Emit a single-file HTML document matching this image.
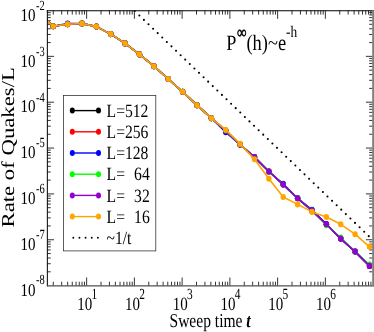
<!DOCTYPE html>
<html><head><meta charset="utf-8"><style>
html,body{margin:0;padding:0;background:#fff;}
svg{display:block;will-change:transform;font-family:"Liberation Serif",serif;text-rendering:geometricPrecision;}
</style></head><body>
<svg width="374" height="332" viewBox="0 0 374 332">
<rect width="374" height="332" fill="#fff"/>
<defs><clipPath id="c"><rect x="47.35" y="10.5" width="325.25" height="275.3"/></clipPath></defs>
<path d="M53.27 10.5v4.1M53.27 285.8v-4.1M61.68 10.5v4.1M61.68 285.8v-4.1M67.65 10.5v4.1M67.65 285.8v-4.1M72.27 10.5v4.1M72.27 285.8v-4.1M76.05 10.5v4.1M76.05 285.8v-4.1M79.25 10.5v4.1M79.25 285.8v-4.1M82.02 10.5v4.1M82.02 285.8v-4.1M84.46 10.5v4.1M84.46 285.8v-4.1M86.64 10.5v8.3M86.64 285.8v-8.3M101.02 10.5v4.1M101.02 285.8v-4.1M109.43 10.5v4.1M109.43 285.8v-4.1M115.39 10.5v4.1M115.39 285.8v-4.1M120.02 10.5v4.1M120.02 285.8v-4.1M123.80 10.5v4.1M123.80 285.8v-4.1M126.99 10.5v4.1M126.99 285.8v-4.1M129.76 10.5v4.1M129.76 285.8v-4.1M132.21 10.5v4.1M132.21 285.8v-4.1M134.39 10.5v8.3M134.39 285.8v-8.3M148.76 10.5v4.1M148.76 285.8v-4.1M157.17 10.5v4.1M157.17 285.8v-4.1M163.14 10.5v4.1M163.14 285.8v-4.1M167.76 10.5v4.1M167.76 285.8v-4.1M171.54 10.5v4.1M171.54 285.8v-4.1M174.74 10.5v4.1M174.74 285.8v-4.1M177.51 10.5v4.1M177.51 285.8v-4.1M179.95 10.5v4.1M179.95 285.8v-4.1M182.13 10.5v8.3M182.13 285.8v-8.3M196.51 10.5v4.1M196.51 285.8v-4.1M204.92 10.5v4.1M204.92 285.8v-4.1M210.88 10.5v4.1M210.88 285.8v-4.1M215.51 10.5v4.1M215.51 285.8v-4.1M219.29 10.5v4.1M219.29 285.8v-4.1M222.48 10.5v4.1M222.48 285.8v-4.1M225.25 10.5v4.1M225.25 285.8v-4.1M227.70 10.5v4.1M227.70 285.8v-4.1M229.88 10.5v8.3M229.88 285.8v-8.3M244.25 10.5v4.1M244.25 285.8v-4.1M252.66 10.5v4.1M252.66 285.8v-4.1M258.63 10.5v4.1M258.63 285.8v-4.1M263.25 10.5v4.1M263.25 285.8v-4.1M267.03 10.5v4.1M267.03 285.8v-4.1M270.23 10.5v4.1M270.23 285.8v-4.1M273.00 10.5v4.1M273.00 285.8v-4.1M275.44 10.5v4.1M275.44 285.8v-4.1M277.62 10.5v8.3M277.62 285.8v-8.3M292.00 10.5v4.1M292.00 285.8v-4.1M300.41 10.5v4.1M300.41 285.8v-4.1M306.37 10.5v4.1M306.37 285.8v-4.1M311.00 10.5v4.1M311.00 285.8v-4.1M314.78 10.5v4.1M314.78 285.8v-4.1M317.97 10.5v4.1M317.97 285.8v-4.1M320.74 10.5v4.1M320.74 285.8v-4.1M323.19 10.5v4.1M323.19 285.8v-4.1M325.37 10.5v8.3M325.37 285.8v-8.3M339.74 10.5v4.1M339.74 285.8v-4.1M348.15 10.5v4.1M348.15 285.8v-4.1M354.12 10.5v4.1M354.12 285.8v-4.1M358.74 10.5v4.1M358.74 285.8v-4.1M362.52 10.5v4.1M362.52 285.8v-4.1M365.72 10.5v4.1M365.72 285.8v-4.1M368.49 10.5v4.1M368.49 285.8v-4.1M370.93 10.5v4.1M370.93 285.8v-4.1M47.35 271.80h3.4M372.6 271.80h-3.4M47.35 263.72h3.4M372.6 263.72h-3.4M47.35 258.00h3.4M372.6 258.00h-3.4M47.35 253.55h3.4M372.6 253.55h-3.4M47.35 249.92h3.4M372.6 249.92h-3.4M47.35 246.85h3.4M372.6 246.85h-3.4M47.35 244.19h3.4M372.6 244.19h-3.4M47.35 241.85h3.4M372.6 241.85h-3.4M47.35 239.75h6.7M372.6 239.75h-6.7M47.35 225.95h3.4M372.6 225.95h-3.4M47.35 217.87h3.4M372.6 217.87h-3.4M47.35 212.15h3.4M372.6 212.15h-3.4M47.35 207.70h3.4M372.6 207.70h-3.4M47.35 204.07h3.4M372.6 204.07h-3.4M47.35 201.00h3.4M372.6 201.00h-3.4M47.35 198.34h3.4M372.6 198.34h-3.4M47.35 196.00h3.4M372.6 196.00h-3.4M47.35 193.90h6.7M372.6 193.90h-6.7M47.35 180.10h3.4M372.6 180.10h-3.4M47.35 172.02h3.4M372.6 172.02h-3.4M47.35 166.30h3.4M372.6 166.30h-3.4M47.35 161.85h3.4M372.6 161.85h-3.4M47.35 158.22h3.4M372.6 158.22h-3.4M47.35 155.15h3.4M372.6 155.15h-3.4M47.35 152.49h3.4M372.6 152.49h-3.4M47.35 150.15h3.4M372.6 150.15h-3.4M47.35 148.05h6.7M372.6 148.05h-6.7M47.35 134.25h3.4M372.6 134.25h-3.4M47.35 126.17h3.4M372.6 126.17h-3.4M47.35 120.45h3.4M372.6 120.45h-3.4M47.35 116.00h3.4M372.6 116.00h-3.4M47.35 112.37h3.4M372.6 112.37h-3.4M47.35 109.30h3.4M372.6 109.30h-3.4M47.35 106.64h3.4M372.6 106.64h-3.4M47.35 104.30h3.4M372.6 104.30h-3.4M47.35 102.20h6.7M372.6 102.20h-6.7M47.35 88.40h3.4M372.6 88.40h-3.4M47.35 80.32h3.4M372.6 80.32h-3.4M47.35 74.60h3.4M372.6 74.60h-3.4M47.35 70.15h3.4M372.6 70.15h-3.4M47.35 66.52h3.4M372.6 66.52h-3.4M47.35 63.45h3.4M372.6 63.45h-3.4M47.35 60.79h3.4M372.6 60.79h-3.4M47.35 58.45h3.4M372.6 58.45h-3.4M47.35 56.35h6.7M372.6 56.35h-6.7M47.35 42.55h3.4M372.6 42.55h-3.4M47.35 34.47h3.4M372.6 34.47h-3.4M47.35 28.75h3.4M372.6 28.75h-3.4M47.35 24.30h3.4M372.6 24.30h-3.4M47.35 20.67h3.4M372.6 20.67h-3.4M47.35 17.60h3.4M372.6 17.60h-3.4M47.35 14.94h3.4M372.6 14.94h-3.4M47.35 12.60h3.4M372.6 12.60h-3.4" stroke="#000" stroke-width="0.8" fill="none"/>
<g clip-path="url(#c)"><line x1="134.74" y1="11.05" x2="372.82" y2="240.04" stroke="#000" stroke-width="2.1" stroke-linecap="round" stroke-dasharray="0 6.367"/>
<polyline points="38.9,12.6 53.3,26.3 67.6,24.3 82.0,23.5 96.4,26.6 110.8,34.1 125.1,43.4 139.5,54.4 153.9,66.2 168.3,79.0 182.6,91.8 197.0,105.2 211.4,118.2 225.7,130.6 240.1,144.6 254.5,157.1 268.9,171.5 283.2,184.6 297.6,198.3 312.0,210.6 326.4,224.3 340.7,238.6 355.1,251.6 369.5,265.9" fill="none" stroke="#000" stroke-width="1.6" stroke-linejoin="round"/>
<ellipse cx="38.9" cy="12.6" rx="2.7" ry="3.05" fill="#000"/>
<ellipse cx="53.3" cy="26.3" rx="2.7" ry="3.05" fill="#000"/>
<ellipse cx="67.6" cy="24.3" rx="2.7" ry="3.05" fill="#000"/>
<ellipse cx="82.0" cy="23.5" rx="2.7" ry="3.05" fill="#000"/>
<ellipse cx="96.4" cy="26.6" rx="2.7" ry="3.05" fill="#000"/>
<ellipse cx="110.8" cy="34.1" rx="2.7" ry="3.05" fill="#000"/>
<ellipse cx="125.1" cy="43.4" rx="2.7" ry="3.05" fill="#000"/>
<ellipse cx="139.5" cy="54.4" rx="2.7" ry="3.05" fill="#000"/>
<ellipse cx="153.9" cy="66.2" rx="2.7" ry="3.05" fill="#000"/>
<ellipse cx="168.3" cy="79.0" rx="2.7" ry="3.05" fill="#000"/>
<ellipse cx="182.6" cy="91.8" rx="2.7" ry="3.05" fill="#000"/>
<ellipse cx="197.0" cy="105.2" rx="2.7" ry="3.05" fill="#000"/>
<ellipse cx="211.4" cy="118.2" rx="2.7" ry="3.05" fill="#000"/>
<ellipse cx="225.7" cy="130.6" rx="2.7" ry="3.05" fill="#000"/>
<ellipse cx="240.1" cy="144.6" rx="2.7" ry="3.05" fill="#000"/>
<ellipse cx="254.5" cy="157.1" rx="2.7" ry="3.05" fill="#000"/>
<ellipse cx="268.9" cy="171.5" rx="2.7" ry="3.05" fill="#000"/>
<ellipse cx="283.2" cy="184.6" rx="2.7" ry="3.05" fill="#000"/>
<ellipse cx="297.6" cy="198.3" rx="2.7" ry="3.05" fill="#000"/>
<ellipse cx="312.0" cy="210.6" rx="2.7" ry="3.05" fill="#000"/>
<ellipse cx="326.4" cy="224.3" rx="2.7" ry="3.05" fill="#000"/>
<ellipse cx="340.7" cy="238.6" rx="2.7" ry="3.05" fill="#000"/>
<ellipse cx="355.1" cy="251.6" rx="2.7" ry="3.05" fill="#000"/>
<ellipse cx="369.5" cy="265.9" rx="2.7" ry="3.05" fill="#000"/>
<polyline points="38.9,12.6 53.3,26.3 67.6,24.3 82.0,23.5 96.4,26.6 110.8,34.1 125.1,43.4 139.5,54.4 153.9,66.2 168.3,79.0 182.6,91.8 197.0,105.2 211.4,118.2 225.7,130.6 240.1,144.6 254.5,157.1 268.9,171.5 283.2,184.6 297.6,198.3 312.0,210.6 326.4,224.3 340.7,238.6 355.1,251.6 369.5,265.9" fill="none" stroke="#f00" stroke-width="1.6" stroke-linejoin="round"/>
<ellipse cx="38.9" cy="12.6" rx="2.7" ry="3.05" fill="#f00"/>
<ellipse cx="53.3" cy="26.3" rx="2.7" ry="3.05" fill="#f00"/>
<ellipse cx="67.6" cy="24.3" rx="2.7" ry="3.05" fill="#f00"/>
<ellipse cx="82.0" cy="23.5" rx="2.7" ry="3.05" fill="#f00"/>
<ellipse cx="96.4" cy="26.6" rx="2.7" ry="3.05" fill="#f00"/>
<ellipse cx="110.8" cy="34.1" rx="2.7" ry="3.05" fill="#f00"/>
<ellipse cx="125.1" cy="43.4" rx="2.7" ry="3.05" fill="#f00"/>
<ellipse cx="139.5" cy="54.4" rx="2.7" ry="3.05" fill="#f00"/>
<ellipse cx="153.9" cy="66.2" rx="2.7" ry="3.05" fill="#f00"/>
<ellipse cx="168.3" cy="79.0" rx="2.7" ry="3.05" fill="#f00"/>
<ellipse cx="182.6" cy="91.8" rx="2.7" ry="3.05" fill="#f00"/>
<ellipse cx="197.0" cy="105.2" rx="2.7" ry="3.05" fill="#f00"/>
<ellipse cx="211.4" cy="118.2" rx="2.7" ry="3.05" fill="#f00"/>
<ellipse cx="225.7" cy="130.6" rx="2.7" ry="3.05" fill="#f00"/>
<ellipse cx="240.1" cy="144.6" rx="2.7" ry="3.05" fill="#f00"/>
<ellipse cx="254.5" cy="157.1" rx="2.7" ry="3.05" fill="#f00"/>
<ellipse cx="268.9" cy="171.5" rx="2.7" ry="3.05" fill="#f00"/>
<ellipse cx="283.2" cy="184.6" rx="2.7" ry="3.05" fill="#f00"/>
<ellipse cx="297.6" cy="198.3" rx="2.7" ry="3.05" fill="#f00"/>
<ellipse cx="312.0" cy="210.6" rx="2.7" ry="3.05" fill="#f00"/>
<ellipse cx="326.4" cy="224.3" rx="2.7" ry="3.05" fill="#f00"/>
<ellipse cx="340.7" cy="238.6" rx="2.7" ry="3.05" fill="#f00"/>
<ellipse cx="355.1" cy="251.6" rx="2.7" ry="3.05" fill="#f00"/>
<ellipse cx="369.5" cy="265.9" rx="2.7" ry="3.05" fill="#f00"/>
<polyline points="38.9,12.6 53.3,26.3 67.6,23.6 82.0,23.5 96.4,26.6 110.8,34.1 125.1,43.4 139.5,54.4 153.9,66.2 168.3,79.0 182.6,91.8 197.0,105.2 211.4,118.2 225.7,132.2 240.1,144.6 254.5,157.1 268.9,171.5 283.2,183.8 297.6,198.3 312.0,209.8 326.4,224.3 340.7,238.6 355.1,251.6 369.5,265.9" fill="none" stroke="#00f" stroke-width="1.6" stroke-linejoin="round"/>
<ellipse cx="38.9" cy="12.6" rx="2.7" ry="3.05" fill="#00f"/>
<ellipse cx="53.3" cy="26.3" rx="2.7" ry="3.05" fill="#00f"/>
<ellipse cx="67.6" cy="23.6" rx="2.7" ry="3.05" fill="#00f"/>
<ellipse cx="82.0" cy="23.5" rx="2.7" ry="3.05" fill="#00f"/>
<ellipse cx="96.4" cy="26.6" rx="2.7" ry="3.05" fill="#00f"/>
<ellipse cx="110.8" cy="34.1" rx="2.7" ry="3.05" fill="#00f"/>
<ellipse cx="125.1" cy="43.4" rx="2.7" ry="3.05" fill="#00f"/>
<ellipse cx="139.5" cy="54.4" rx="2.7" ry="3.05" fill="#00f"/>
<ellipse cx="153.9" cy="66.2" rx="2.7" ry="3.05" fill="#00f"/>
<ellipse cx="168.3" cy="79.0" rx="2.7" ry="3.05" fill="#00f"/>
<ellipse cx="182.6" cy="91.8" rx="2.7" ry="3.05" fill="#00f"/>
<ellipse cx="197.0" cy="105.2" rx="2.7" ry="3.05" fill="#00f"/>
<ellipse cx="211.4" cy="118.2" rx="2.7" ry="3.05" fill="#00f"/>
<ellipse cx="225.7" cy="132.2" rx="2.7" ry="3.05" fill="#00f"/>
<ellipse cx="240.1" cy="144.6" rx="2.7" ry="3.05" fill="#00f"/>
<ellipse cx="254.5" cy="157.1" rx="2.7" ry="3.05" fill="#00f"/>
<ellipse cx="268.9" cy="171.5" rx="2.7" ry="3.05" fill="#00f"/>
<ellipse cx="283.2" cy="183.8" rx="2.7" ry="3.05" fill="#00f"/>
<ellipse cx="297.6" cy="198.3" rx="2.7" ry="3.05" fill="#00f"/>
<ellipse cx="312.0" cy="209.8" rx="2.7" ry="3.05" fill="#00f"/>
<ellipse cx="326.4" cy="224.3" rx="2.7" ry="3.05" fill="#00f"/>
<ellipse cx="340.7" cy="238.6" rx="2.7" ry="3.05" fill="#00f"/>
<ellipse cx="355.1" cy="251.6" rx="2.7" ry="3.05" fill="#00f"/>
<ellipse cx="369.5" cy="265.9" rx="2.7" ry="3.05" fill="#00f"/>
<polyline points="38.9,12.6 53.3,26.3 67.6,24.3 82.0,23.5 96.4,26.6 110.8,34.1 125.1,43.4 139.5,54.4 153.9,66.2 168.3,79.0 182.6,91.8 197.0,105.2 211.4,118.2 225.7,130.6 240.1,144.6 254.5,157.1 268.9,171.5 283.2,184.6 297.6,198.3 312.0,210.6 326.4,225.2 340.7,237.6 355.1,251.6 369.5,264.5" fill="none" stroke="#00ff00" stroke-width="1.6" stroke-linejoin="round"/>
<ellipse cx="38.9" cy="12.6" rx="2.7" ry="3.05" fill="#00ff00"/>
<ellipse cx="53.3" cy="26.3" rx="2.7" ry="3.05" fill="#00ff00"/>
<ellipse cx="67.6" cy="24.3" rx="2.7" ry="3.05" fill="#00ff00"/>
<ellipse cx="82.0" cy="23.5" rx="2.7" ry="3.05" fill="#00ff00"/>
<ellipse cx="96.4" cy="26.6" rx="2.7" ry="3.05" fill="#00ff00"/>
<ellipse cx="110.8" cy="34.1" rx="2.7" ry="3.05" fill="#00ff00"/>
<ellipse cx="125.1" cy="43.4" rx="2.7" ry="3.05" fill="#00ff00"/>
<ellipse cx="139.5" cy="54.4" rx="2.7" ry="3.05" fill="#00ff00"/>
<ellipse cx="153.9" cy="66.2" rx="2.7" ry="3.05" fill="#00ff00"/>
<ellipse cx="168.3" cy="79.0" rx="2.7" ry="3.05" fill="#00ff00"/>
<ellipse cx="182.6" cy="91.8" rx="2.7" ry="3.05" fill="#00ff00"/>
<ellipse cx="197.0" cy="105.2" rx="2.7" ry="3.05" fill="#00ff00"/>
<ellipse cx="211.4" cy="118.2" rx="2.7" ry="3.05" fill="#00ff00"/>
<ellipse cx="225.7" cy="130.6" rx="2.7" ry="3.05" fill="#00ff00"/>
<ellipse cx="240.1" cy="144.6" rx="2.7" ry="3.05" fill="#00ff00"/>
<ellipse cx="254.5" cy="157.1" rx="2.7" ry="3.05" fill="#00ff00"/>
<ellipse cx="268.9" cy="171.5" rx="2.7" ry="3.05" fill="#00ff00"/>
<ellipse cx="283.2" cy="184.6" rx="2.7" ry="3.05" fill="#00ff00"/>
<ellipse cx="297.6" cy="198.3" rx="2.7" ry="3.05" fill="#00ff00"/>
<ellipse cx="312.0" cy="210.6" rx="2.7" ry="3.05" fill="#00ff00"/>
<ellipse cx="326.4" cy="225.2" rx="2.7" ry="3.05" fill="#00ff00"/>
<ellipse cx="340.7" cy="237.6" rx="2.7" ry="3.05" fill="#00ff00"/>
<ellipse cx="355.1" cy="251.6" rx="2.7" ry="3.05" fill="#00ff00"/>
<ellipse cx="369.5" cy="264.5" rx="2.7" ry="3.05" fill="#00ff00"/>
<polyline points="38.9,12.6 53.3,26.3 67.6,24.3 82.0,23.5 96.4,26.6 110.8,34.1 125.1,43.4 139.5,54.4 153.9,66.2 168.3,79.0 182.6,91.8 197.0,105.2 211.4,118.2 225.7,130.6 240.1,144.6 254.5,157.1 268.9,171.5 283.2,184.6 297.6,198.3 312.0,210.6 326.4,224.3 340.7,238.6 355.1,251.6 369.5,265.9" fill="none" stroke="#9400d3" stroke-width="1.6" stroke-linejoin="round"/>
<ellipse cx="38.9" cy="12.6" rx="2.7" ry="3.05" fill="#9400d3"/>
<ellipse cx="53.3" cy="26.3" rx="2.7" ry="3.05" fill="#9400d3"/>
<ellipse cx="67.6" cy="24.3" rx="2.7" ry="3.05" fill="#9400d3"/>
<ellipse cx="82.0" cy="23.5" rx="2.7" ry="3.05" fill="#9400d3"/>
<ellipse cx="96.4" cy="26.6" rx="2.7" ry="3.05" fill="#9400d3"/>
<ellipse cx="110.8" cy="34.1" rx="2.7" ry="3.05" fill="#9400d3"/>
<ellipse cx="125.1" cy="43.4" rx="2.7" ry="3.05" fill="#9400d3"/>
<ellipse cx="139.5" cy="54.4" rx="2.7" ry="3.05" fill="#9400d3"/>
<ellipse cx="153.9" cy="66.2" rx="2.7" ry="3.05" fill="#9400d3"/>
<ellipse cx="168.3" cy="79.0" rx="2.7" ry="3.05" fill="#9400d3"/>
<ellipse cx="182.6" cy="91.8" rx="2.7" ry="3.05" fill="#9400d3"/>
<ellipse cx="197.0" cy="105.2" rx="2.7" ry="3.05" fill="#9400d3"/>
<ellipse cx="211.4" cy="118.2" rx="2.7" ry="3.05" fill="#9400d3"/>
<ellipse cx="225.7" cy="130.6" rx="2.7" ry="3.05" fill="#9400d3"/>
<ellipse cx="240.1" cy="144.6" rx="2.7" ry="3.05" fill="#9400d3"/>
<ellipse cx="254.5" cy="157.1" rx="2.7" ry="3.05" fill="#9400d3"/>
<ellipse cx="268.9" cy="171.5" rx="2.7" ry="3.05" fill="#9400d3"/>
<ellipse cx="283.2" cy="184.6" rx="2.7" ry="3.05" fill="#9400d3"/>
<ellipse cx="297.6" cy="198.3" rx="2.7" ry="3.05" fill="#9400d3"/>
<ellipse cx="312.0" cy="210.6" rx="2.7" ry="3.05" fill="#9400d3"/>
<ellipse cx="326.4" cy="224.3" rx="2.7" ry="3.05" fill="#9400d3"/>
<ellipse cx="340.7" cy="238.6" rx="2.7" ry="3.05" fill="#9400d3"/>
<ellipse cx="355.1" cy="251.6" rx="2.7" ry="3.05" fill="#9400d3"/>
<ellipse cx="369.5" cy="265.9" rx="2.7" ry="3.05" fill="#9400d3"/>
<polyline points="38.9,12.6 53.3,26.3 67.6,24.3 82.0,23.5 96.4,26.6 110.8,34.1 125.1,43.4 139.5,54.4 153.9,66.2 168.3,79.0 182.6,91.8 197.0,105.2 211.4,118.2 225.7,129.9 240.1,143.9 254.5,159.2 268.9,178.7 283.2,197.0 297.6,204.4 312.0,211.9 326.4,217.0 340.7,224.3 355.1,234.2 369.5,246.8" fill="none" stroke="#ffa500" stroke-width="1.6" stroke-linejoin="round"/>
<ellipse cx="38.9" cy="12.6" rx="2.7" ry="3.05" fill="#ffa500"/>
<ellipse cx="53.3" cy="26.3" rx="2.7" ry="3.05" fill="#ffa500"/>
<ellipse cx="67.6" cy="24.3" rx="2.7" ry="3.05" fill="#ffa500"/>
<ellipse cx="82.0" cy="23.5" rx="2.7" ry="3.05" fill="#ffa500"/>
<ellipse cx="96.4" cy="26.6" rx="2.7" ry="3.05" fill="#ffa500"/>
<ellipse cx="110.8" cy="34.1" rx="2.7" ry="3.05" fill="#ffa500"/>
<ellipse cx="125.1" cy="43.4" rx="2.7" ry="3.05" fill="#ffa500"/>
<ellipse cx="139.5" cy="54.4" rx="2.7" ry="3.05" fill="#ffa500"/>
<ellipse cx="153.9" cy="66.2" rx="2.7" ry="3.05" fill="#ffa500"/>
<ellipse cx="168.3" cy="79.0" rx="2.7" ry="3.05" fill="#ffa500"/>
<ellipse cx="182.6" cy="91.8" rx="2.7" ry="3.05" fill="#ffa500"/>
<ellipse cx="197.0" cy="105.2" rx="2.7" ry="3.05" fill="#ffa500"/>
<ellipse cx="211.4" cy="118.2" rx="2.7" ry="3.05" fill="#ffa500"/>
<ellipse cx="225.7" cy="129.9" rx="2.7" ry="3.05" fill="#ffa500"/>
<ellipse cx="240.1" cy="143.9" rx="2.7" ry="3.05" fill="#ffa500"/>
<ellipse cx="254.5" cy="159.2" rx="2.7" ry="3.05" fill="#ffa500"/>
<ellipse cx="268.9" cy="178.7" rx="2.7" ry="3.05" fill="#ffa500"/>
<ellipse cx="283.2" cy="197.0" rx="2.7" ry="3.05" fill="#ffa500"/>
<ellipse cx="297.6" cy="204.4" rx="2.7" ry="3.05" fill="#ffa500"/>
<ellipse cx="312.0" cy="211.9" rx="2.7" ry="3.05" fill="#ffa500"/>
<ellipse cx="326.4" cy="217.0" rx="2.7" ry="3.05" fill="#ffa500"/>
<ellipse cx="340.7" cy="224.3" rx="2.7" ry="3.05" fill="#ffa500"/>
<ellipse cx="355.1" cy="234.2" rx="2.7" ry="3.05" fill="#ffa500"/>
<ellipse cx="369.5" cy="246.8" rx="2.7" ry="3.05" fill="#ffa500"/>
</g>
<path d="M47.35 10.2V286.3" stroke="#000" stroke-width="1" fill="none"/><path d="M46.85 10.7H374" stroke="#000" stroke-width="1.1" fill="none"/><path d="M46.85 285.85H374" stroke="#505050" stroke-width="1.4" fill="none"/><rect x="372.2" y="10.2" width="1.8" height="276.1" fill="#7d7d7d"/>
<rect x="63.6" y="95.5" width="92.20000000000002" height="155.4" fill="#fff" stroke="#2a2a2a" stroke-width="0.75"/>
<line x1="72.3" y1="110.6" x2="98.5" y2="110.6" stroke="#000" stroke-width="1.4"/><ellipse cx="72.3" cy="110.6" rx="2.5" ry="3.0" fill="#000"/><ellipse cx="98.5" cy="110.6" rx="2.5" ry="3.0" fill="#000"/>
<text transform="translate(106.6,116.8) scale(1,1.2)" font-size="15.65" xml:space="preserve">L=512</text>
<line x1="72.3" y1="131.8" x2="98.5" y2="131.8" stroke="#f00" stroke-width="1.4"/><ellipse cx="72.3" cy="131.8" rx="2.5" ry="3.0" fill="#f00"/><ellipse cx="98.5" cy="131.8" rx="2.5" ry="3.0" fill="#f00"/>
<text transform="translate(106.6,138.0) scale(1,1.2)" font-size="15.65" xml:space="preserve">L=256</text>
<line x1="72.3" y1="153.0" x2="98.5" y2="153.0" stroke="#00f" stroke-width="1.4"/><ellipse cx="72.3" cy="153.0" rx="2.5" ry="3.0" fill="#00f"/><ellipse cx="98.5" cy="153.0" rx="2.5" ry="3.0" fill="#00f"/>
<text transform="translate(106.6,159.2) scale(1,1.2)" font-size="15.65" xml:space="preserve">L=128</text>
<line x1="72.3" y1="174.2" x2="98.5" y2="174.2" stroke="#00ff00" stroke-width="1.4"/><ellipse cx="72.3" cy="174.2" rx="2.5" ry="3.0" fill="#00ff00"/><ellipse cx="98.5" cy="174.2" rx="2.5" ry="3.0" fill="#00ff00"/>
<text transform="translate(106.6,180.4) scale(1,1.2)" font-size="15.65" xml:space="preserve">L=  64</text>
<line x1="72.3" y1="195.4" x2="98.5" y2="195.4" stroke="#9400d3" stroke-width="1.4"/><ellipse cx="72.3" cy="195.4" rx="2.5" ry="3.0" fill="#9400d3"/><ellipse cx="98.5" cy="195.4" rx="2.5" ry="3.0" fill="#9400d3"/>
<text transform="translate(106.6,201.6) scale(1,1.2)" font-size="15.65" xml:space="preserve">L=  32</text>
<line x1="72.3" y1="216.6" x2="98.5" y2="216.6" stroke="#ffa500" stroke-width="1.4"/><ellipse cx="72.3" cy="216.6" rx="2.5" ry="3.0" fill="#ffa500"/><ellipse cx="98.5" cy="216.6" rx="2.5" ry="3.0" fill="#ffa500"/>
<text transform="translate(106.6,222.8) scale(1,1.2)" font-size="15.65" xml:space="preserve">L=  16</text>
<line x1="73.3" y1="237.8" x2="98.5" y2="237.8" stroke="#000" stroke-width="1.9" stroke-linecap="round" stroke-dasharray="0 6.15"/>
<text transform="translate(106.6,244.0) scale(1,1.2)" font-size="15.5">~1/t</text>
<text transform="translate(77.2,310) scale(1,1.25)" font-size="15">10</text><text transform="translate(91.5,299.2) scale(1,1.36)" font-size="11.4">1</text>
<text transform="translate(125.0,310) scale(1,1.25)" font-size="15">10</text><text transform="translate(139.3,299.2) scale(1,1.36)" font-size="11.4">2</text>
<text transform="translate(172.7,310) scale(1,1.25)" font-size="15">10</text><text transform="translate(187.0,299.2) scale(1,1.36)" font-size="11.4">3</text>
<text transform="translate(220.5,310) scale(1,1.25)" font-size="15">10</text><text transform="translate(234.8,299.2) scale(1,1.36)" font-size="11.4">4</text>
<text transform="translate(268.2,310) scale(1,1.25)" font-size="15">10</text><text transform="translate(282.5,299.2) scale(1,1.36)" font-size="11.4">5</text>
<text transform="translate(316.0,310) scale(1,1.25)" font-size="15">10</text><text transform="translate(330.3,299.2) scale(1,1.36)" font-size="11.4">6</text>
<text transform="translate(20.6,20.9) scale(1,1.2)" font-size="15">10</text><text transform="translate(36.0,10.1) scale(1,1.33)" font-size="10.5">-2</text>
<text transform="translate(20.6,66.7) scale(1,1.2)" font-size="15">10</text><text transform="translate(36.0,55.8) scale(1,1.33)" font-size="10.5">-3</text>
<text transform="translate(20.6,112.4) scale(1,1.2)" font-size="15">10</text><text transform="translate(36.0,101.5) scale(1,1.33)" font-size="10.5">-4</text>
<text transform="translate(20.6,158.2) scale(1,1.2)" font-size="15">10</text><text transform="translate(36.0,147.2) scale(1,1.33)" font-size="10.5">-5</text>
<text transform="translate(20.6,204.0) scale(1,1.2)" font-size="15">10</text><text transform="translate(36.0,192.9) scale(1,1.33)" font-size="10.5">-6</text>
<text transform="translate(20.6,249.8) scale(1,1.2)" font-size="15">10</text><text transform="translate(36.0,238.6) scale(1,1.33)" font-size="10.5">-7</text>
<text transform="translate(20.6,295.5) scale(1,1.2)" font-size="15">10</text><text transform="translate(36.0,284.3) scale(1,1.33)" font-size="10.5">-8</text>
<text transform="translate(169.5,326.7) scale(1,1.26)" font-size="15.55">Sweep time <tspan font-weight="bold" font-style="italic">t</tspan></text>
<text transform="translate(14.2,227.5) rotate(-90) scale(1.25,1)" font-size="18.2">Rate of Quakes/L</text>
<text transform="translate(226.3,50.1) scale(1,1.2)" font-size="18.2">P</text>
<text transform="translate(237.3,38.4) scale(1,1.36)" font-size="12.7" font-weight="bold" stroke="#000" stroke-width="0.45">∞</text>
<text transform="translate(246.5,50.1) scale(1,1.2)" font-size="18.4">(h)~e</text>
<text transform="translate(286.0,37.0) scale(1,1.2)" font-size="13.4">-h</text>
</svg></body></html>
